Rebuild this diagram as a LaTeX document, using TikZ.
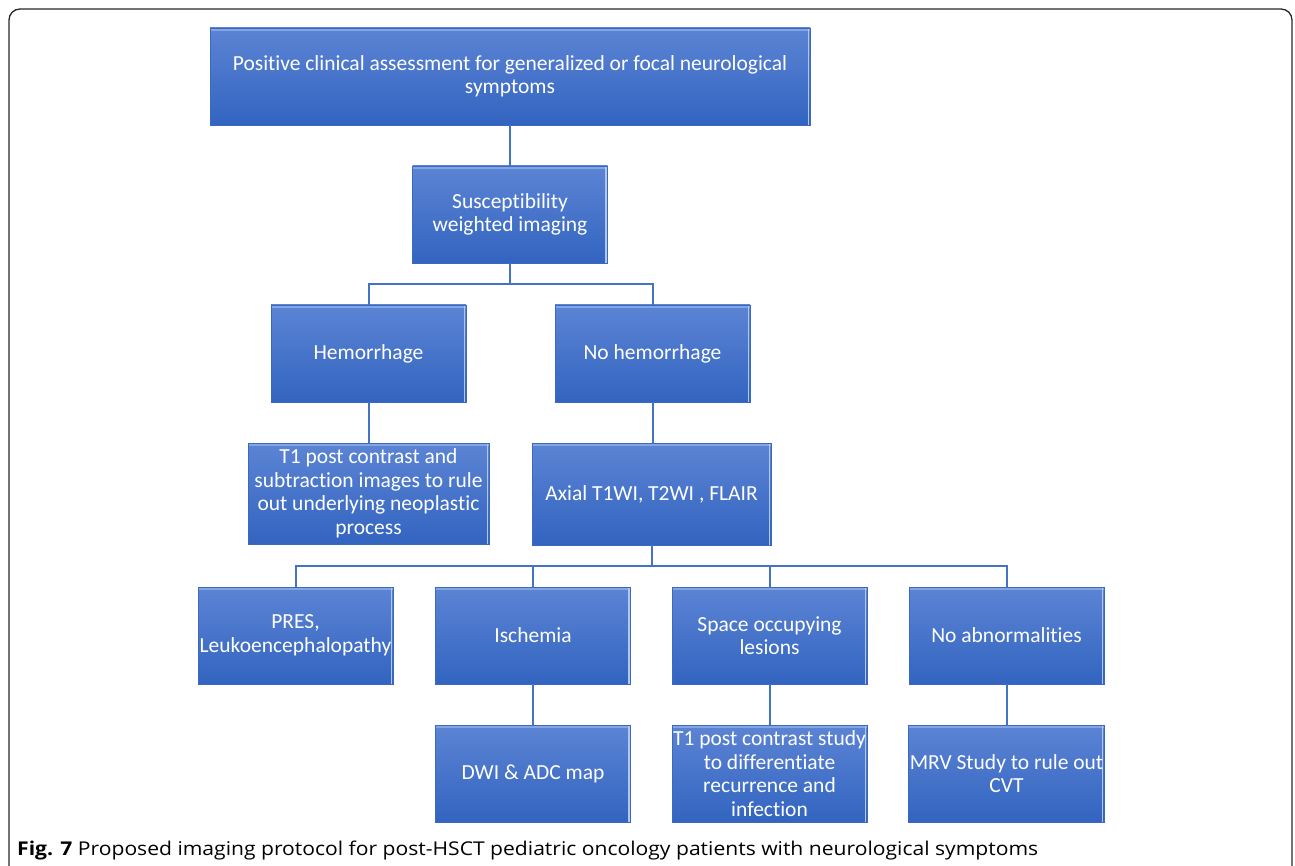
\documentclass[tikz,border=0pt]{standalone}
\usepackage{fontspec}
\setmainfont{Carlito}[Ligatures={NoCommon}]
\newfontfamily\capfont{Open Sans}
\definecolor{boxtop}{RGB}{92,132,212}
\definecolor{boxbot}{RGB}{50,100,192}
\definecolor{boxedge}{RGB}{60,105,190}
\definecolor{boxhi}{RGB}{130,165,228}
\definecolor{boxside}{RGB}{175,200,240}
\definecolor{linkc}{RGB}{68,114,196}
\definecolor{framec}{RGB}{40,40,40}
\tikzset{
  box/.style={rectangle, top color=boxtop, bottom color=boxbot, draw=boxedge, line width=0.8pt,
    text=white, font=\fontsize{21.5}{23.5}\selectfont, align=center, inner sep=1pt,
    minimum width=195pt, minimum height=97pt,
    path picture={
      \draw[boxhi, line width=2.5pt] ([yshift=-2pt]path picture bounding box.north west) -- ([yshift=-2pt]path picture bounding box.north east);
      \draw[boxside, line width=1.5pt] ([xshift=-1.5pt]path picture bounding box.north east) -- ([xshift=-1.5pt]path picture bounding box.south east);
    }},
  link/.style={draw=linkc, line width=2pt},
}
\begin{document}
\begin{tikzpicture}[x=1pt,y=-1pt]
\useasboundingbox (0,0) rectangle (1295,866);
\fill[white] (0,0) rectangle (1295,866);
\draw[framec, line width=1.3pt, rounded corners=11pt] (9,880) -- (9,9) -- (1292,9) -- (1292,880);

\node[box, minimum width=600pt] (top) at (510,76.5) {Positive clinical assessment for generalized or focal neurological\\symptoms};
\node[box] (swi) at (510,214.5) {Susceptibility\\weighted imaging};
\node[box] (hem) at (368.5,353.5) {Hemorrhage};
\node[box] (nohem) at (652.5,353.5) {No hemorrhage};
\node[box, minimum width=241pt, minimum height=101pt] (t1a) at (368.5,493.5) {T1 post contrast and\\subtraction images to rule\\out underlying neoplastic\\process};
\node[box, minimum width=239pt, minimum height=102pt] (axial) at (651.5,494) {Axial T1WI, T2WI , FLAIR};
\node[box] (pres) at (295.5,635.5) {PRES,\\Leukoencephalopathy};
\node[box] (isch) at (533,635.5) {Ischemia};
\node[box] (space) at (769.5,635.5) {Space occupying\\lesions};
\node[box] (noab) at (1006.5,635.5) {No abnormalities};
\node[box] (dwi) at (533,773.5) {DWI \& ADC map};
\node[box] (t1b) at (769.5,773.5) {T1 post contrast study\\to differentiate\\recurrence and\\infection};
\node[box] (mrv) at (1006.5,773.5) {MRV Study to rule out\\CVT};

\coordinate (j1) at (510,284.5);
\coordinate (j2) at (651.5,566);

\draw[link] (top.south) -- (swi.north);
\draw[link] (swi.south) -- (j1);
\draw[link] (j1) -| (hem.north);
\draw[link] (j1) -| (nohem.north);
\draw[link] (hem.south) -- (t1a.north);
\draw[link] (nohem.south) -- (nohem.south |- axial.north);
\draw[link] (axial.south) -- (j2);
\draw[link] (j2) -| (pres.north);
\draw[link] (j2) -| (isch.north);
\draw[link] (j2) -| (space.north);
\draw[link] (j2) -| (noab.north);
\draw[link] (isch.south) -- (dwi.north);
\draw[link] (space.south) -- (t1b.north);
\draw[link] (noab.south) -- (mrv.north);

\node[anchor=west, inner sep=0pt, font=\capfont\fontsize{19}{21}\selectfont] (cap) at (17,851)
  {\scalebox{1.11}[1]{\textbf{Fig. 7} Proposed imaging protocol for post-HSCT pediatric oncology patients with neurological symptoms}};
\end{tikzpicture}
\end{document}
